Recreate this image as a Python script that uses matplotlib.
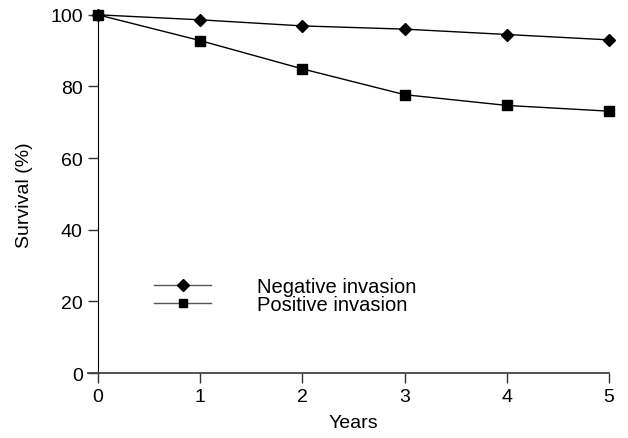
import matplotlib.pyplot as plt

plt.rcParams['font.family'] = ['Liberation Sans', 'DejaVu Sans']

# Data
years = [0, 1, 2, 3, 4, 5]
negative = [100, 98.6, 96.9, 96.0, 94.5, 93.0]
positive = [100, 92.8, 84.9, 77.7, 74.7, 73.1]
xticks = [0, 1, 2, 3, 4, 5]
yticks = [0, 20, 40, 60, 80, 100]

fig = plt.figure(figsize=(6.28, 4.39), dpi=100)
ax = fig.add_axes([0.156, 0.148, 0.814, 0.816])

ax.plot(years, negative, color='black', lw=1, marker='D', markersize=6.5,
        clip_on=False, label='Negative invasion', zorder=3)
ax.plot(years, positive, color='black', lw=1, marker='s', markersize=6.5,
        clip_on=False, label='Positive invasion', zorder=3)

ax.set_xlim(0, 5)
ax.set_ylim(0, 100)
ax.set_xticks(xticks)
ax.set_yticks(yticks)
ax.tick_params(labelsize=14, length=7, width=1, color='#333333')
ax.tick_params(axis='x', pad=4)
ax.tick_params(axis='y', pad=4)

for s in ['top', 'right']:
    ax.spines[s].set_visible(False)
ax.spines['left'].set_color('black')
ax.spines['bottom'].set_color('#444444')
ax.spines['bottom'].set_linewidth(1.3)
ax.spines['bottom'].set_bounds(-0.1, 5)

ax.set_xlabel('Years', fontsize=14, labelpad=6)
ax.set_ylabel('Survival (%)', fontsize=14, labelpad=12)

leg = ax.legend(loc='upper left', bbox_to_anchor=(0.075, 0.318), frameon=False,
                fontsize=14.5, handlelength=2.8, handletextpad=2.3,
                labelspacing=-0.05)
for line in leg.get_lines():
    line.set_color('#555555')
    line.set_markerfacecolor('black')
    line.set_markeredgecolor('black')
    line.set_markersize(6)

fig.savefig('out.png', dpi=100)
